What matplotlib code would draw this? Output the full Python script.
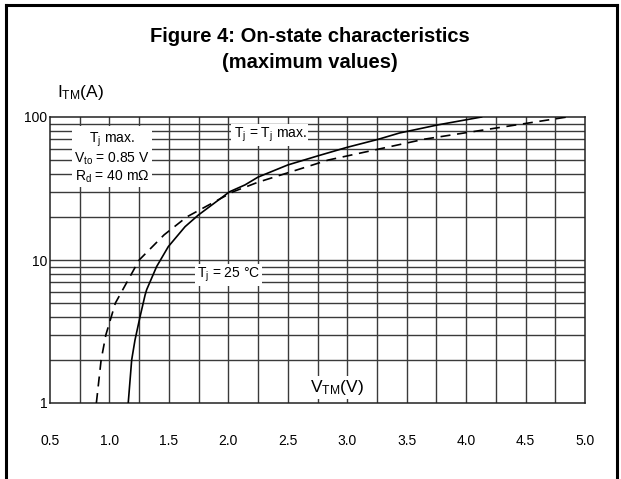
import matplotlib
matplotlib.use("Agg")
import matplotlib.pyplot as plt
from matplotlib.lines import Line2D
import numpy as np

plt.rcParams['font.family'] = ['Liberation Sans', 'DejaVu Sans']
plt.rcParams['mathtext.fontset'] = 'custom'
plt.rcParams['mathtext.rm'] = 'Liberation Sans'
plt.rcParams['mathtext.it'] = 'Liberation Sans'
plt.rcParams['mathtext.default'] = 'rm'

# Tj = Tj max (dashed)
cur_tjmax = [1, 2, 3, 5, 10, 15, 20, 30, 35, 50, 70, 100]
v_tjmax = [0.89, 0.93, 0.97, 1.05, 1.25, 1.46, 1.65, 2.04, 2.25, 2.84, 3.65, 4.85]
# Tj = 25 C (solid)
cur_25 = [1, 2, 2.76, 4.0, 5.7, 6.2, 9.0, 12.4, 17.1, 20.6, 30, 33.5, 38, 46.2, 53.4, 61.4, 69.8, 77.3, 88, 100]
v_25 = [1.158, 1.187, 1.215, 1.257, 1.30, 1.313, 1.397, 1.495, 1.636, 1.747, 2.01, 2.14, 2.25, 2.5, 2.75, 3.0, 3.26, 3.44, 3.76, 4.13]

xticks = [0.5, 1.0, 1.5, 2.0, 2.5, 3.0, 3.5, 4.0, 4.5, 5.0]
xtick_labels = ["0.5", "1.0", "1.5", "2.0", "2.5", "3.0", "3.5", "4.0", "4.5", "5.0"]
yticks = [1, 10, 100]
ytick_labels = ["1", "10", "100"]

W, H = 621, 479
fig = plt.figure(figsize=(W / 100, H / 100), dpi=100)
ax = fig.add_axes([50 / W, 1 - 403 / H, 535 / W, (403 - 117) / H])

ax.set_xlim(0.5, 5.0)
ax.set_ylim(1, 100)
ax.set_yscale('log')

gc = '#3a3a3a'
glw = 1.0
for v in np.arange(0.75, 5.0, 0.25):
    ax.axvline(v, color=gc, lw=glw, zorder=1)
for dec in [1, 10]:
    for m in range(2, 10):
        ax.axhline(dec * m, color=gc, lw=glw, zorder=1)
ax.axhline(10, color=gc, lw=glw, zorder=1)

for s in ax.spines.values():
    s.set_color('#222222')
    s.set_linewidth(1.1)

ax.plot(v_25, cur_25, color='black', lw=1.2, zorder=3)
ax.plot(v_tjmax, cur_tjmax, color='black', lw=1.2, ls=(0, (6, 4)), zorder=3)

ax.set_xticks(xticks)
ax.set_xticklabels(xtick_labels)
ax.set_yticks(yticks)
ax.set_yticklabels(ytick_labels)
ax.yaxis.set_minor_locator(matplotlib.ticker.NullLocator())
ax.tick_params(length=0, labelsize=10)
ax.tick_params(axis='x', pad=22)
ax.tick_params(axis='y', pad=2)

bb = dict(facecolor='white', edgecolor='none', pad=1.5)
ax.text(1.02, 52, "$T_j$ max.\n$V_{to}$ = 0.85 V\n$R_d$ = 40 m\u03a9", ha='center', va='center',
        fontsize=10, bbox=bb, zorder=4, linespacing=1.15)
ax.text(2.35, 75, "$T_j$ = $T_j$ max.", ha='center', va='center', fontsize=10, bbox=bb, zorder=4)
ax.text(2.0, 7.85, "$T_j$ = 25 \u00b0C", ha='center', va='center', fontsize=10, bbox=bb, zorder=4)
ax.text(2.91, 1.29, "$V_{TM}$(V)", ha='center', va='center', fontsize=12.5, bbox=bb, zorder=4)

fig.text(81 / W, 1 - 92 / H, "$I_{TM}$(A)", ha='center', va='center', fontsize=12.5)

fig.text(310 / W, 1 - 37 / H, "Figure 4: On-state characteristics", ha='center', va='center',
         fontsize=14.5, fontweight='bold')
fig.text(310 / W, 1 - 63 / H, "(maximum values)", ha='center', va='center',
         fontsize=14.5, fontweight='bold')

# outer frame (left, top, right)
fig.add_artist(Line2D([6 / W, 6 / W], [0, 1 - 5 / H], transform=fig.transFigure, color='black', lw=2.2))
fig.add_artist(Line2D([6 / W, 617 / W], [1 - 5 / H, 1 - 5 / H], transform=fig.transFigure, color='black', lw=2.2))
fig.add_artist(Line2D([617 / W, 617 / W], [0, 1 - 5 / H], transform=fig.transFigure, color='black', lw=2.2))

fig.savefig("out.png", dpi=100)
